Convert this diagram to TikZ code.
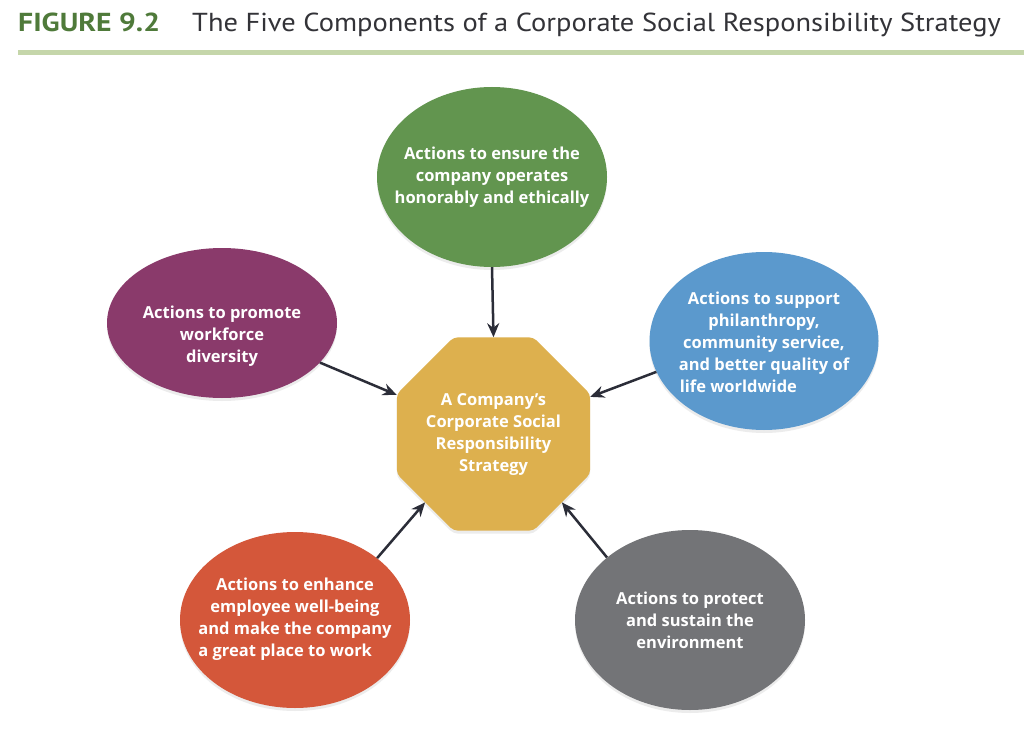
\documentclass[tikz,border=0pt]{standalone}
\usepackage{fontspec}
\usepackage{calc}
\setmainfont{Open Sans}
\newfontfamily\titlefont{PT Sans}
\usetikzlibrary{shapes.geometric,arrows.meta,shadows}
\definecolor{cgreen}{HTML}{62954F}
\definecolor{cpurple}{HTML}{8A3A6B}
\definecolor{cblue}{HTML}{5B99CD}
\definecolor{cred}{HTML}{D4573A}
\definecolor{cgray}{HTML}{737477}
\definecolor{cgold}{HTML}{DDB04E}
\definecolor{ctitle}{HTML}{4F7A3A}
\definecolor{ctext}{HTML}{333338}
\definecolor{crule}{HTML}{C5D6AA}
\definecolor{carrow}{HTML}{2B2D38}
\tikzset{
  comp/.style={ellipse, inner sep=0pt, minimum width=230pt,
    drop shadow={opacity=0.15, shadow xshift=0pt, shadow yshift=-3pt}},
  lbl/.style={inner sep=0pt, text=white, align=center, font=\bfseries\fontsize{16.5}{22}\selectfont},
  core/.style={regular polygon, regular polygon sides=8, minimum size=209pt, inner sep=0pt,
    fill=cgold, rounded corners=4pt,
    drop shadow={opacity=0.15, shadow xshift=0pt, shadow yshift=-3pt}},
  arr/.style={draw=carrow, line width=2.5pt, -{Stealth[length=14pt,width=12pt]}}
}
\begin{document}
\begin{tikzpicture}[x=1pt,y=-1pt]
\useasboundingbox[fill=white] (0,0) rectangle (1024,730);
% title
\node[anchor=base west, inner sep=0pt, text=ctitle, font=\titlefont\bfseries\fontsize{26}{26}\selectfont] (fig) at (18,32) {\scalebox{1.14}[1]{FIGURE 9.2}};
\node[anchor=base west, inner sep=0pt, text=ctext, font=\titlefont\fontsize{26}{26}\selectfont] (ttl) at (192,32) {\scalebox{1.095}[1]{The Five Components of a Corporate Social Responsibility Strategy}};
\fill[crule] (18,50) rectangle (1024,55);
% core
\node[core] (oct) at (493.5,434) {};
\node[lbl] (octtxt) at (493.5,435) {A Company’s\\Corporate Social\\Responsibility\\Strategy};
% components
\node[comp, fill=cgreen, minimum height=180pt] (green) at (492,177) {};
\node[lbl] (greentxt) at (492,177) {Actions to ensure the\\company operates\\honorably and ethically};
\node[comp, fill=cpurple, minimum height=150pt] (purple) at (222,323) {};
\node[lbl] (purpletxt) at (222,336) {Actions to promote\\workforce\\diversity};
\node[comp, fill=cblue, minimum height=178pt, minimum width=229pt] (blue) at (764,341) {};
\node[lbl] (bluetxt) at (764,342) {Actions to support\\philanthropy,\\community service,\\and better quality of\\\makebox[\widthof{and better quality of}][l]{\hspace{1pt}life worldwide}};
\node[comp, fill=cred, minimum height=176pt] (red) at (295,620) {};
\node[lbl] (redtxt) at (295,619) {Actions to enhance\\employee well-being\\and make the company\\\makebox[\widthof{and make the company}][l]{a great place to work}};
\node[comp, fill=cgray, minimum height=180pt] (gray) at (690,620) {};
\node[lbl] (graytxt) at (690,620) {Actions to protect\\and sustain the\\environment};
% connectors
\draw[arr] (green.south) -- (oct.north);
\draw[arr] (purple.-22) -- (oct.158);
\draw[arr] (blue.196) -- (oct.21);
\draw[arr] (red.37) -- (oct.225);
\draw[arr] (gray.143) -- (oct.315);
\end{tikzpicture}
\end{document}
